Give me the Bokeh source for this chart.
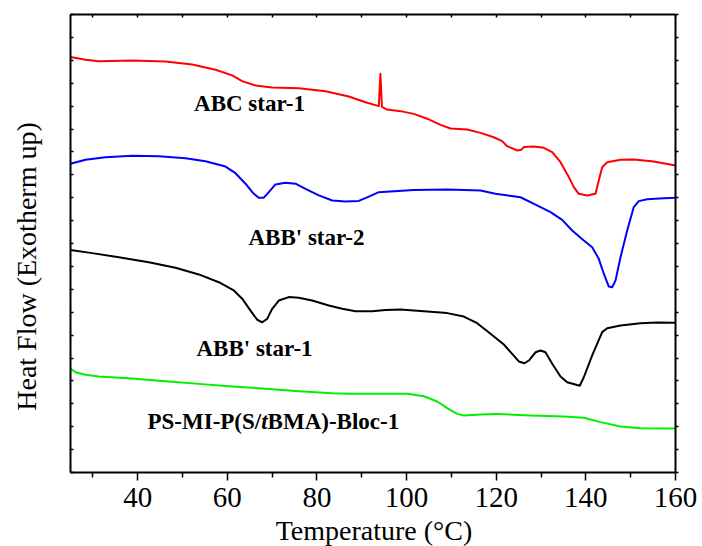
from bokeh.plotting import figure
from bokeh.layouts import row, column
from bokeh.models import Range1d, LinearAxis, FixedTicker, Label
from bokeh.embed import file_html
from bokeh.resources import INLINE

# ---- data (temperature in degC, heat flow in arbitrary stacked units) ----
abc_t = [25, 28.35, 31.31, 38.77, 46.20, 52.16, 57.36, 61.08, 63.31, 66.28, 70.01, 75.94, 81.90,
         87.10, 90.83, 93.8, 94.15, 94.5, 95.67, 98.64, 101.60, 104.59, 107.56, 109.79, 113.52,
         116.49, 119.45, 121.33, 122.44, 124.68, 125.57, 126.15, 128.38, 130.61, 132.49, 134.34,
         136.19, 137.31, 138.42, 140.30, 142.15, 142.88, 143.64, 144.76, 147.73, 150.69, 155.16, 160]
abc_hf = [18.14, 18.02, 17.96, 17.99, 17.95, 17.82, 17.59, 17.34, 17.09, 16.90, 16.81, 16.78, 16.65,
          16.42, 16.17, 16.00, 17.41, 15.97, 15.85, 15.78, 15.66, 15.45, 15.18, 15.02, 14.98,
          14.83, 14.64, 14.47, 14.25, 14.06, 14.09, 14.21, 14.24, 14.18, 13.99, 13.55,
          12.90, 12.46, 12.17, 12.10, 12.17, 12.75, 13.33, 13.55, 13.66, 13.67, 13.58, 13.41]

abb2_t = [25, 28.35, 32.81, 38.77, 44.70, 50.66, 55.12, 59.59, 61.82, 64.05, 65.90, 67.02, 68.13,
          69.25, 70.74, 72.97, 75.21, 77.44, 80.41, 83.40, 86.36, 89.33, 91.56, 93.79, 101.60,
          109.06, 116.49, 119.83, 125.41, 128.76, 132.11, 134.72, 136.95, 139.54, 141.41, 142.88,
          144.00, 145.12, 145.87, 146.61, 147.73, 149.22, 150.69, 151.81, 153.68, 157.39, 160]
abb2_hf = [13.48, 13.66, 13.77, 13.83, 13.81, 13.72, 13.59, 13.36, 13.07, 12.61, 12.17, 12.00, 12.00,
           12.24, 12.58, 12.65, 12.61, 12.39, 12.10, 11.88, 11.83, 11.86, 12.05, 12.24, 12.34,
           12.36, 12.31, 12.17, 12.02, 11.70, 11.37, 11.03, 10.57, 10.13, 9.84, 9.33,
           8.68, 8.12, 8.09, 8.38, 9.40, 10.57, 11.59, 11.85, 11.93, 11.98, 12.00]

abb1_t = [25, 29.84, 35.78, 42.47, 48.43, 53.63, 58.09, 61.44, 63.31, 65.17, 66.66, 67.78, 68.89,
          70.01, 71.48, 73.71, 75.94, 78.93, 82.64, 85.63, 88.59, 92.32, 95.29, 98.64, 103.84,
          109.06, 112.76, 115.75, 118.72, 121.69, 123.56, 125.03, 126.31, 127.27, 128.76, 129.88,
          130.99, 132.49, 134.34, 135.83, 138.64, 139.54, 141.41, 143.64, 144.76, 147.73, 152.19,
          155.92, 160]
abb1_hf = [9.72, 9.58, 9.40, 9.18, 8.94, 8.65, 8.31, 7.95, 7.59, 7.07, 6.67, 6.56, 6.71,
           7.15, 7.51, 7.66, 7.63, 7.51, 7.29, 7.15, 7.04, 7.04, 7.10, 7.12, 7.04,
           6.96, 6.81, 6.52, 6.06, 5.59, 5.18, 4.85, 4.77, 4.89, 5.25, 5.33,
           5.25, 4.75, 4.19, 3.94, 3.79, 4.16, 5.11, 6.13, 6.30, 6.42, 6.52,
           6.55, 6.54]

ps_t = [25, 26.12, 28.35, 31.31, 38.77, 46.20, 53.63, 61.08, 68.51, 75.94, 83.40, 87.10, 94.0,
        100.13, 103.84, 106.83, 109.06, 111.29, 112.76, 116.49, 120.21, 127.64, 135.07, 139.54,
        143.26, 147.73, 152.19, 160]
ps_hf = [4.53, 4.38, 4.27, 4.19, 4.10, 3.98, 3.87, 3.76, 3.66, 3.55, 3.46, 3.44, 3.44,
         3.44, 3.33, 3.10, 2.81, 2.56, 2.49, 2.53, 2.56, 2.49, 2.45, 2.39,
         2.20, 2.01, 1.93, 1.92]

x_major_ticks = [40, 60, 80, 100, 120, 140, 160]
x_minor_ticks = [30, 50, 70, 90, 110, 130, 150]
y_ticks = list(range(0, 21))

FONT = "Liberation Serif"
TOP_H = 516

def blank(fig):
    fig.xgrid.visible = False
    fig.ygrid.visible = False
    fig.outline_line_color = None
    fig.background_fill_color = "white"
    fig.border_fill_color = "white"

# ---- narrow side panel holding the y-axis title (its frame is aligned with the main frame) ----
side = figure(width=68, height=TOP_H, output_backend="svg", toolbar_location=None,
              x_range=Range1d(0, 1), y_range=Range1d(0, 1),
              x_axis_location=None, y_axis_location=None, min_border=0)
blank(side)
side.add_layout(Label(x=26, y=206, x_units="screen", y_units="screen",
                      text="Heat Flow (Exotherm up)", text_font=FONT, text_font_size="28px",
                      text_align="center", text_baseline="middle", angle=90, angle_units="deg",
                      text_color="black"))

# ---- main plot ----
p = figure(width=634, height=TOP_H, output_backend="svg", toolbar_location=None,
           x_range=Range1d(25, 160), y_range=Range1d(0, 20),
           x_axis_location=None, y_axis_location=None,
           min_border_left=2, min_border_right=27, min_border_top=14, min_border_bottom=44)
blank(p)

def base_axis(ax):
    ax.axis_line_color = "black"
    ax.axis_line_width = 2
    ax.major_tick_line_color = "black"
    ax.minor_tick_line_color = "black"
    ax.major_tick_line_width = 1.5
    ax.minor_tick_line_width = 1.5
    ax.major_label_text_font = FONT
    ax.major_label_text_color = "black"
    ax.major_tick_in = 0
    ax.major_tick_out = 0
    ax.minor_tick_in = 0
    ax.minor_tick_out = 0
    ax.major_label_standoff = 0

xb = LinearAxis(ticker=FixedTicker(ticks=x_major_ticks, minor_ticks=x_minor_ticks))
base_axis(xb)
xb.major_tick_out = 8
xb.minor_tick_out = 5
xb.major_label_text_font_size = "29px"
xb.major_label_standoff = 7
p.add_layout(xb, "below")

xt = LinearAxis(ticker=FixedTicker(ticks=[], minor_ticks=x_major_ticks + x_minor_ticks))
base_axis(xt)
xt.minor_tick_in = 3
p.add_layout(xt, "above")

yl = LinearAxis(ticker=FixedTicker(ticks=[], minor_ticks=y_ticks))
base_axis(yl)
yl.minor_tick_in = 3
p.add_layout(yl, "left")

yr = LinearAxis(ticker=FixedTicker(ticks=[], minor_ticks=y_ticks))
base_axis(yr)
yr.minor_tick_out = 3
p.add_layout(yr, "right")

lw = 2
p.line(abc_t, abc_hf, line_color="#ff0000", line_width=lw, line_join="round")
p.line(abb2_t, abb2_hf, line_color="#0000ff", line_width=lw, line_join="round")
p.line(abb1_t, abb1_hf, line_color="#000000", line_width=lw, line_join="round")
p.line(ps_t, ps_hf, line_color="#00f000", line_width=lw, line_join="round")

def lab(x, y, text, align="center", style="bold", x_offset=0):
    p.add_layout(Label(x=x, y=y, text=text, text_font=FONT, text_font_size="23px",
                       text_font_style=style, text_align=align, text_baseline="middle",
                       text_color="black", x_offset=x_offset))

lab(64.94, 16.11, "ABC star-1")
lab(77.66, 10.26, "ABB' star-2")
lab(66.06, 5.41, "ABB' star-1")
lab(42.18, 2.23, "PS-MI-P(S/", align="left")
lab(42.18, 2.23, "t", align="left", style="bold italic", x_offset=113.7)
lab(42.18, 2.23, "BMA)-Bloc-1", align="left", x_offset=120.1)

# ---- bottom strip holding the x-axis title ----
bottom = figure(width=702, height=546 - TOP_H, output_backend="svg", toolbar_location=None,
                x_range=Range1d(0, 1), y_range=Range1d(0, 1),
                x_axis_location=None, y_axis_location=None, min_border=0)
blank(bottom)
bottom.add_layout(Label(x=373.5, y=16, x_units="screen", y_units="screen",
                        text="Temperature (°C)", text_font=FONT, text_font_size="28px",
                        text_align="center", text_baseline="alphabetic", text_color="black"))

layout = column(row(side, p, spacing=0), bottom, spacing=0)
open("out.html", "w").write(file_html(layout, INLINE))
